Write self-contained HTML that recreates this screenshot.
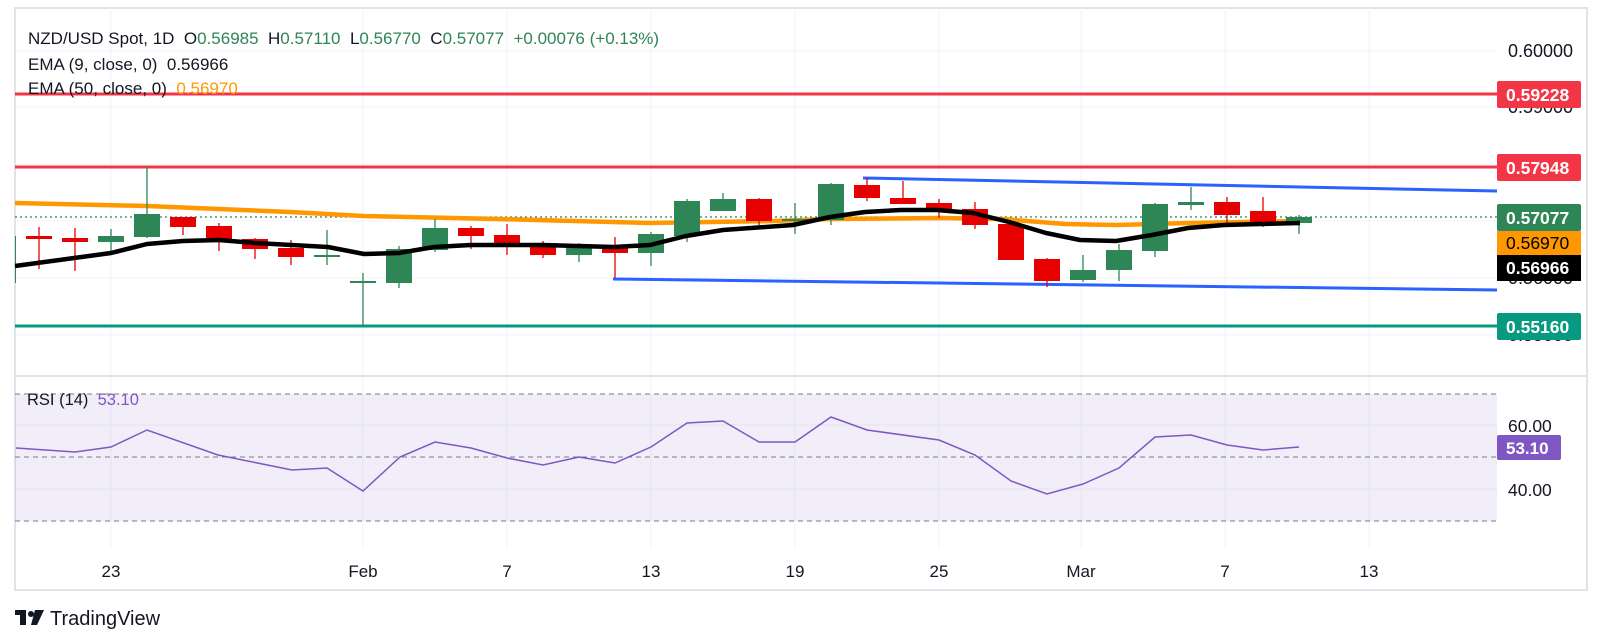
<!DOCTYPE html>
<html><head><meta charset="utf-8"><style>
body{margin:0;background:#fff;width:1602px;height:644px;overflow:hidden;font-family:"Liberation Sans",sans-serif}
svg{display:block}
text{white-space:pre}
</style></head><body>
<svg id="s" width="1602" height="644" xmlns="http://www.w3.org/2000/svg" font-family="Liberation Sans, sans-serif" xml:space="preserve">
<rect x="15" y="8" width="1572" height="582" fill="none" stroke="#e0e3eb" stroke-width="2"/>
<g stroke="#f0f3fa" stroke-width="1">
<line x1="15" x2="1497" y1="51" y2="51"/><line x1="15" x2="1497" y1="107" y2="107"/><line x1="15" x2="1497" y1="164" y2="164"/><line x1="15" x2="1497" y1="221" y2="221"/><line x1="15" x2="1497" y1="278" y2="278"/><line x1="15" x2="1497" y1="335" y2="335"/>
<line x1="15" x2="1497" y1="425" y2="425"/><line x1="15" x2="1497" y1="489" y2="489"/>
<line x1="111" x2="111" y1="8" y2="548"/><line x1="363" x2="363" y1="8" y2="548"/><line x1="507" x2="507" y1="8" y2="548"/><line x1="651" x2="651" y1="8" y2="548"/><line x1="795" x2="795" y1="8" y2="548"/><line x1="939" x2="939" y1="8" y2="548"/><line x1="1081" x2="1081" y1="8" y2="548"/><line x1="1225" x2="1225" y1="8" y2="548"/><line x1="1369" x2="1369" y1="8" y2="548"/>
</g>
<line x1="15" x2="1587" y1="376" y2="376" stroke="#e0e3eb" stroke-width="2"/>
<rect x="15" y="394" width="1482" height="127" fill="#7e57c2" fill-opacity="0.1"/>
<g stroke="#787b86" stroke-dasharray="5,4" stroke-width="1"><line x1="15" x2="1497" y1="394" y2="394"/><line x1="15" x2="1497" y1="457" y2="457"/><line x1="15" x2="1497" y1="521" y2="521"/></g>
<polyline fill="none" stroke="#7e57c2" stroke-width="1.5" points="16,448 75,452 111,447 147,430 218,455 292,470 327,468 363,491 400,457 435,442 471,448 507,458 543,465 579,457 615,463 651,447 687,423 723,421 759,442 795,442 831,417 867,430 939,440 975,455 1011,481 1047,494 1083,484 1119,468 1155,437 1191,435 1227,445 1263,450 1299,447"/>
<text x="27" y="405" font-size="16.5" fill="#131722">RSI (14)  <tspan fill="#7e57c2">53.10</tspan></text>
<text x="1508" y="432" font-size="17.5" fill="#131722">60.00</text><text x="1508" y="496" font-size="17.5" fill="#131722">40.00</text>
<rect x="1497" y="435" width="64" height="25" rx="2" fill="#7e57c2"/><text x="1506" y="454" font-size="17" font-weight="bold" fill="#fff">53.10</text>
<line x1="15" x2="1497" y1="94" y2="94" stroke="#f23645" stroke-width="3"/>
<line x1="15" x2="1497" y1="167" y2="167" stroke="#f23645" stroke-width="3"/>
<line x1="15" x2="1497" y1="326" y2="326" stroke="#089981" stroke-width="3"/>
<line x1="15" x2="1497" y1="217" y2="217" stroke="#2e7d52" stroke-width="1.2" stroke-dasharray="2,3"/>
<line x1="863" y1="178" x2="1497" y2="191" stroke="#2962ff" stroke-width="3"/>
<line x1="613" y1="279" x2="1497" y2="290" stroke="#2962ff" stroke-width="3"/>
<polyline fill="none" stroke="#ff9800" stroke-width="4.5" points="15,203 147,206 290,212 364,216 497,219 650,223 774,221 830,219 940,218 1002,219 1065,224 1116,225 1189,223 1300,221"/>
<g id="c"></g>
<polyline fill="none" stroke="#000" stroke-width="4.5" stroke-linejoin="round" points="15,266 111,253 147,244 183,241 219,240 255,243 328,247 364,254 399,253 434,247 471,245 542,245 614,247 650,245 686,236 723,230 793,225 830,217 865,212 901,210 937,210 973,213 1009,222 1046,233 1080,240 1116,241 1152,235 1188,228 1224,225 1260,224 1300,223"/>
<rect x="1497" y="9" width="89" height="366" fill="#fff"/>
<g font-size="18" fill="#131722">
<text x="1508" y="57">0.60000</text><text x="1508" y="113">0.59000</text><text x="1508" y="284">0.56000</text><text x="1508" y="341">0.55000</text>
</g>
<g font-size="17.5" font-weight="bold">
<rect x="1497" y="81" width="84" height="27" rx="2" fill="#f23645"/><text x="1506" y="101" fill="#fff">0.59228</text>
<rect x="1497" y="154" width="84" height="27" rx="2" fill="#f23645"/><text x="1506" y="174" fill="#fff">0.57948</text>
<rect x="1497" y="204" width="84" height="27" rx="2" fill="#2e8555"/><text x="1506" y="224" fill="#fff">0.57077</text>
<rect x="1497" y="231" width="84" height="24" fill="#ff9800"/><text x="1506" y="249" fill="#000" font-weight="normal">0.56970</text>
<rect x="1497" y="255" width="84" height="26" fill="#000"/><text x="1506" y="274" fill="#fff">0.56966</text>
<rect x="1497" y="313" width="84" height="27" rx="2" fill="#089981"/><text x="1506" y="333" fill="#fff">0.55160</text>
</g>
<g font-size="17">
<text x="28" y="44" fill="#131722">NZD/USD Spot, 1D  O<tspan fill="#2e8555">0.56985</tspan>  H<tspan fill="#2e8555">0.57110</tspan>  L<tspan fill="#2e8555">0.56770</tspan>  C<tspan fill="#2e8555">0.57077</tspan>  <tspan fill="#2e8555">+0.00076 (+0.13%)</tspan></text>
<text x="28" y="70" fill="#131722">EMA (9, close, 0)  0.56966</text>
<text x="28" y="94" fill="#131722">EMA (50, close, 0)  <tspan fill="#ff9800">0.56970</tspan></text>
</g>
<g font-size="17" fill="#131722" text-anchor="middle">
<text x="111" y="577">23</text><text x="363" y="577">Feb</text><text x="507" y="577">7</text><text x="651" y="577">13</text><text x="795" y="577">19</text><text x="939" y="577">25</text><text x="1081" y="577">Mar</text><text x="1225" y="577">7</text><text x="1369" y="577">13</text>
</g>
<g fill="#131722"><rect x="15" y="610" width="11" height="5"/><rect x="20" y="610" width="6" height="15"/><circle cx="31" cy="614" r="3"/><polygon points="35,610 44,610 37,625 31,625"/></g>
<text x="50" y="625" font-size="20" fill="#131722">TradingView</text>
</svg>
<script>
var d=[[-10,'g',236,283,236,283],[-9,'r',236,239,227,269],[-8,'r',238,242,228,271],[-7,'g',236,242,229,252],[-6,'g',214,237,167,238],[-5,'r',217,227,217,235],[-4,'r',226,239,223,251],[-3,'r',239,249,238,259],[-2,'r',248,257,240,265],[-1,'g',255,257,230,265],[0,'g',281,283,273,325],[1,'g',249,283,246,288],[2,'g',228,250,219,252],[3,'r',228,236,226,249],[4,'r',235,246,224,255],[5,'r',243,255,241,258],[6,'g',246,255,243,262],[7,'r',246,253,237,278],[8,'g',234,253,232,266],[9,'g',201,236,199,242],[10,'g',199,211,193,211],[11,'r',199,221,198,225],[12,'g',219,221,203,234],[13,'g',184,220,183,225],[14,'r',185,198,178,201],[15,'r',198,204,181,204],[16,'r',203,210,199,218],[17,'r',209,225,202,229],[18,'r',224,260,224,260],[19,'r',259,281,258,287],[20,'g',270,280,255,282],[21,'g',250,270,244,281],[22,'g',204,251,203,257],[23,'g',202,205,187,210],[24,'r',202,215,197,226],[25,'r',211,222,197,227],[26,'g',217,223,215,234]];
var g=document.getElementById('c'),h='';
d.forEach(function(c){var x=363+36*c[0],col=c[1]=='g'?'#2e8555':'#e60000';var x0=Math.max(x-13,15),w=x+13-x0;
if(x>15)h+='<line x1="'+x+'" x2="'+x+'" y1="'+c[4]+'" y2="'+c[5]+'" stroke="'+col+'" stroke-width="1.3"/>';
h+='<rect x="'+x0+'" y="'+c[2]+'" width="'+w+'" height="'+Math.max(c[3]-c[2],2)+'" fill="'+col+'"/>';});
g.innerHTML=h;
</script>
</body></html>
